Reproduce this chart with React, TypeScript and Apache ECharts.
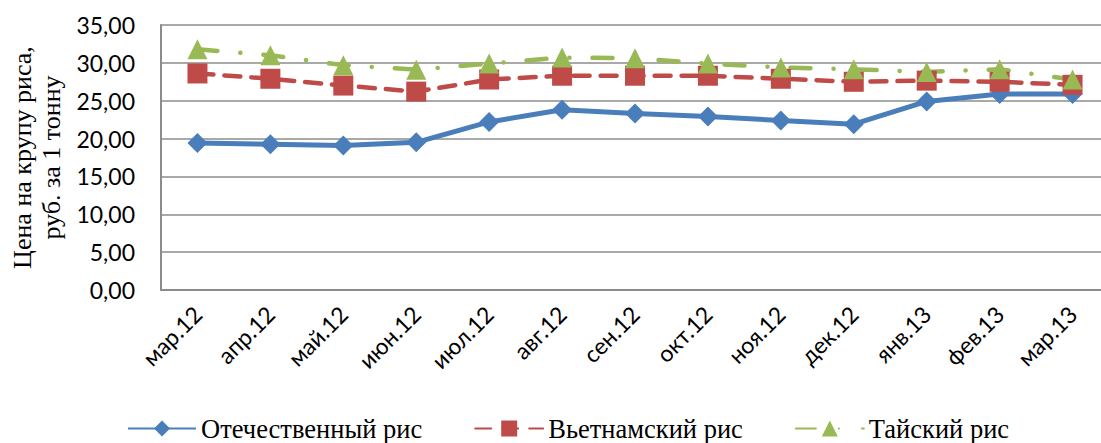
import React, { useEffect, useRef } from "react";
import * as echarts from "echarts";

const categories = ["мар.12", "апр.12", "май.12", "июн.12", "июл.12", "авг.12", "сен.12", "окт.12", "ноя.12", "дек.12", "янв.13", "фев.13", "мар.13"];
const domestic = [19.4, 19.25, 19.1, 19.5, 22.2, 23.8, 23.3, 22.9, 22.4, 21.9, 24.9, 25.9, 25.9];
const vietnam = [28.6, 27.9, 27.0, 26.2, 27.8, 28.3, 28.3, 28.3, 27.9, 27.5, 27.65, 27.5, 27.1];
const thai = [31.8, 31.0, 29.7, 29.1, 29.9, 30.7, 30.6, 29.9, 29.4, 29.15, 28.8, 29.15, 27.8];
const seriesNames = ["Отечественный рис", "Вьетнамский рис", "Тайский рис"];
const yTicks = { min: 0, max: 35, interval: 5 };
const yTitle = "Цена на крупу риса,\nруб. за 1 тонну";

const labelFont = "Lato, 'Open Sans', sans-serif";
const serifFont = "'Liberation Serif', 'DejaVu Serif', serif";

export default function App() {
  const ref = useRef<HTMLDivElement>(null);
  useEffect(() => {
    if (!ref.current) return;
    const chart = echarts.init(ref.current, null, { renderer: "svg" });
    chart.setOption({
      animation: false,
      backgroundColor: "#ffffff",
      grid: { left: 161, top: 25, right: -8, bottom: 153, containLabel: false, outerBoundsMode: "none" },
      legend: {
        left: 127,
        top: 415,
        padding: 0,
        itemWidth: 68,
        itemHeight: 20,
        itemGap: 52,
        textStyle: { fontFamily: serifFont, fontSize: 26.5, lineHeight: 22, color: "#000" },
        data: seriesNames,
      },
      xAxis: {
        type: "category",
        data: categories,
        boundaryGap: true,
        axisLine: { lineStyle: { color: "#8c8c8c", width: 2 } },
        axisTick: { show: false },
        axisLabel: { rotate: 45, fontSize: 23, fontFamily: labelFont, color: "#000", margin: 20, interval: 0 },
      },
      yAxis: {
        type: "value",
        min: yTicks.min,
        max: yTicks.max,
        interval: yTicks.interval,
        name: yTitle,
        nameLocation: "middle",
        nameRotate: 90,
        nameGap: 86,
        nameTextStyle: { fontFamily: serifFont, fontSize: 26, lineHeight: 29, color: "#000" },
        axisLine: { show: true, lineStyle: { color: "#8c8c8c", width: 2 } },
        axisTick: { show: false },
        splitLine: { lineStyle: { color: "#8c8c8c", width: 1.5 } },
        axisLabel: {
          fontSize: 23,
          fontFamily: labelFont,
          color: "#000",
          margin: 26,
          formatter: (v: number) => v.toFixed(2).replace(".", ","),
        },
      },
      series: [
        {
          name: seriesNames[0],
          type: "line",
          data: domestic,
          symbol: "diamond",
          symbolSize: 20,
          itemStyle: { color: "#4a7ebb" },
          lineStyle: { color: "#4a7ebb", width: 5 },
        },
        {
          name: seriesNames[1],
          type: "line",
          data: vietnam,
          symbol: "rect",
          symbolSize: 20,
          itemStyle: { color: "#be4b48" },
          lineStyle: { color: "#be4b48", width: 4.5, type: [16, 11], cap: "round" },
        },
        {
          name: seriesNames[2],
          type: "line",
          data: thai,
          symbol: "triangle",
          symbolSize: 20,
          itemStyle: { color: "#98b954" },
          lineStyle: { color: "#98b954", width: 4.5, type: [20, 23, 0.1, 23], cap: "round" },
        },
      ],
    });
    return () => chart.dispose();
  }, []);
  return <div ref={ref} style={{ position: "fixed", left: 0, top: 0, width: 1101, height: 443 }} />;
}
